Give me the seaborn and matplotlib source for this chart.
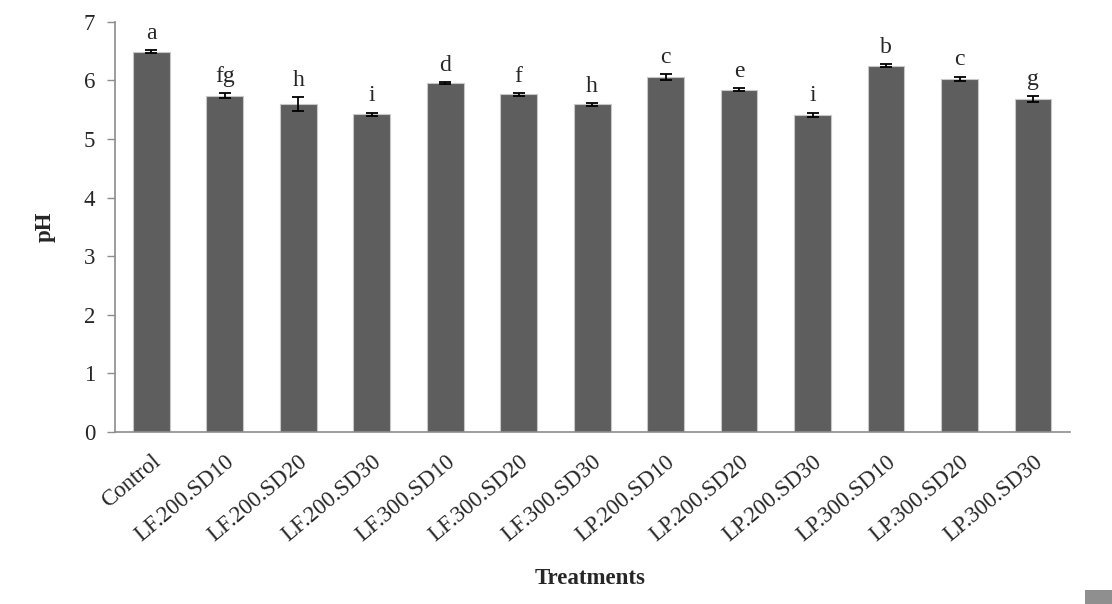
"""
pH of the treatments: mean bars with standard errors and Duncan letters.

Output: out.png
"""

import matplotlib.pyplot as plt
from matplotlib.patches import Rectangle
import pandas as pd
import seaborn as sns

treatments = [
    "Control",
    "LF.200.SD10", "LF.200.SD20", "LF.200.SD30",
    "LF.300.SD10", "LF.300.SD20", "LF.300.SD30",
    "LP.200.SD10", "LP.200.SD20", "LP.200.SD30",
    "LP.300.SD10", "LP.300.SD20", "LP.300.SD30",
]
ph_mean = [6.49, 5.74, 5.60, 5.42, 5.95, 5.76, 5.59, 6.05, 5.84, 5.41, 6.25, 6.03, 5.68]
ph_se = [0.03, 0.05, 0.12, 0.03, 0.02, 0.03, 0.025, 0.05, 0.03, 0.04, 0.025, 0.035, 0.05]
letters = ["a", "fg", "h", "i", "d", "f", "h", "c", "e", "i", "b", "c", "g"]

BAR = "#5e5e5e"
AXIS = "#8c8c8c"


def main() -> None:
    sns.set_style("white")
    plt.rcParams["font.family"] = ["Liberation Serif", "DejaVu Serif"]

    df = pd.DataFrame({"treatment": treatments, "ph": ph_mean, "se": ph_se})

    fig = plt.figure(figsize=(11.12, 6.04), dpi=100)
    ax = fig.add_axes([0.103, 0.285, 0.859, 0.679])

    sns.barplot(data=df, x="treatment", y="ph", color=BAR, width=0.5,
                edgecolor="#c8c8c8", linewidth=0.8, saturation=1, ax=ax)
    ax.errorbar(range(len(df)), df["ph"], yerr=df["se"], fmt="none",
                ecolor="black", elinewidth=1.3, capsize=4.6, capthick=1.3)

    for i, row in df.iterrows():
        ax.text(i, row["ph"] + row["se"] + 0.19, letters[i], ha="center",
                va="baseline", fontsize=17)

    ax.set_ylim(0, 7)
    ax.set_xlim(-0.5, len(df) - 0.5)
    ax.set_yticks(range(0, 8))
    ax.tick_params(axis="y", labelsize=16.5, length=6, width=1, color=AXIS,
                   direction="out", left=True, pad=8)
    ax.tick_params(axis="x", labelsize=16.5, length=0, pad=14)
    plt.setp(ax.get_xticklabels(), rotation=40, ha="right", rotation_mode="anchor")

    sns.despine(ax=ax)
    for side in ("left", "bottom"):
        ax.spines[side].set_color(AXIS)
        ax.spines[side].set_linewidth(1.2)

    ax.set_ylabel("pH", fontsize=16.5, fontweight="bold", labelpad=20)
    ax.set_xlabel("")
    fig.text(0.531, 0.043, "Treatments", ha="center", va="center",
             fontsize=16.5, fontweight="bold")

    # small grey legend key fragment in the bottom-right corner
    fig.patches.append(Rectangle((0.976, 0.0), 0.024, 0.024, transform=fig.transFigure,
                                 facecolor="#8f8f8f", edgecolor="none"))

    fig.savefig("out.png", dpi=100)
    plt.close(fig)


if __name__ == "__main__":
    main()
